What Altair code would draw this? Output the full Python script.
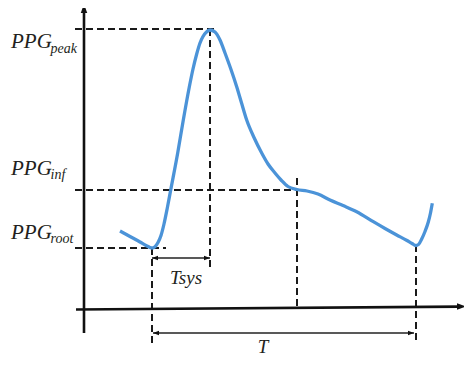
import altair as alt
import pandas as pd

# Waveform (time units, amplitude units; origin at the axes' corner)
curve_t = [36, 46, 56, 62, 66, 68, 71, 74, 77, 80, 83.3, 86.7, 93.7, 99.3, 105.3, 109, 112.7, 116,
           119, 122.5, 126, 131, 136, 141, 147, 152.7, 157.7, 162.7, 170, 177.7, 184, 191, 197.5,
           204, 213, 223, 234, 246, 259, 272.7, 289.3, 301, 312.7, 323, 328, 331.7, 334.5, 337.7,
           341, 344.3, 346.5, 348.3]
curve_a = [78, 72.5, 67, 63.5, 61.5, 61, 62.3, 66.5, 73.5, 85, 101, 119, 156, 189, 222, 240, 255, 266,
           272.5, 277, 279, 277, 269, 256, 239.5, 222.3, 205.5, 189, 171.5, 156, 145, 136, 128.5,
           122.5, 119.5, 118, 115, 109, 103.5, 97.3, 87.3, 80.5, 74, 68.5, 65.5, 63.5, 64.5, 70,
           77.5, 87, 96, 105.7]

# Key points of the pulse
t_root, a_root = 68, 61
t_peak, a_peak = 126, 280
t_inf, a_inf = 213, 119
t_end, a_end = 332, 64

# Dashed guide lines (start, end)
dash_t1 = [-9, t_peak, -9, t_inf, -9, t_root, t_end]
dash_a1 = [a_peak, a_peak, a_inf, 131, a_root, a_root, a_end]
dash_t2 = [132, t_peak, 216, t_inf, 82, t_root, t_end]
dash_a2 = [a_peak, 41, a_inf, 2, a_root, -37, -35]

# Axes
axis_t1 = [0, -8]
axis_a1 = [296, -0.5]
axis_t2 = [0, 375]
axis_a2 = [-24, 2.4]

# Interval arrows (Tsys, T)
int_t1 = [t_root, 69]
int_t2 = [t_peak, 330]
int_a = [51, -24]

# Arrow heads
head_t = [0, 377.5, 71, 123, 72, 327]
head_a = [300.5, 2.5, 51, 51, -24, -24]
head_angle = [0, 90, 270, 90, 270, 90]
head_size = [81, 81, 36, 36, 36, 36]

# Labels
main_text = ["PPG", "PPG", "PPG"]
main_t = [-73, -73, -73]
main_a = [261, 134, 70]
sub_text = ["peak", "inf", "root"]
sub_t = [-33.5, -33.5, -33.5]
sub_a = [256, 130, 66]
int_text = ["Tsys", "T"]
int_lt = [102, 179]
int_la = [25, -44]

INK = "#231f20"
BLUE = "#4b93d8"
FONT = "Liberation Serif, Times New Roman, serif"

xs = alt.Scale(domain=[-76, 380], nice=False, zero=False)
ys = alt.Scale(domain=[-48, 301], nice=False, zero=False)

def X(f):
    return alt.X(f, type="quantitative", scale=xs, axis=None)

def Y(f):
    return alt.Y(f, type="quantitative", scale=ys, axis=None)

curve_df = pd.DataFrame({"t": curve_t, "a": curve_a, "o": range(len(curve_t))})
dash_df = pd.DataFrame({"t": dash_t1, "a": dash_a1, "t2": dash_t2, "a2": dash_a2})
axis_df = pd.DataFrame({"t": axis_t1, "a": axis_a1, "t2": axis_t2, "a2": axis_a2})
int_df = pd.DataFrame({"t": int_t1, "t2": int_t2, "a": int_a})
head_df = pd.DataFrame({"t": head_t, "a": head_a, "ang": head_angle, "s": head_size})
main_df = pd.DataFrame({"t": main_t, "a": main_a, "txt": main_text})
sub_df = pd.DataFrame({"t": sub_t, "a": sub_a, "txt": sub_text})
lab_df = pd.DataFrame({"t": int_lt, "a": int_la, "txt": int_text})

dashes = alt.Chart(dash_df).mark_rule(color="#1a1a1a", strokeWidth=2, strokeDash=[7, 4]).encode(
    x=X("t"), y=Y("a"), x2="t2", y2="a2")
axes = alt.Chart(axis_df).mark_rule(color="#111", strokeWidth=2.6).encode(
    x=X("t"), y=Y("a"), x2="t2", y2="a2")
ints = alt.Chart(int_df).mark_rule(color="#222", strokeWidth=1.3).encode(
    x=X("t"), x2="t2", y=Y("a"))
heads = alt.Chart(head_df).mark_point(
    shape="M0,-1L0.72,1L-0.72,1Z", filled=True, color="#111", opacity=1).encode(
    x=X("t"), y=Y("a"), angle=alt.Angle("ang:Q", scale=None), size=alt.Size("s:Q", scale=None))
curve = alt.Chart(curve_df).mark_line(color=BLUE, strokeWidth=3.3, interpolate="monotone").encode(
    x=X("t"), y=Y("a"), order="o:Q")
main_lab = alt.Chart(main_df).mark_text(
    font=FONT, fontStyle="italic", fontSize=21, align="left", baseline="alphabetic", color=INK).encode(
    x=X("t"), y=Y("a"), text="txt:N")
sub_lab = alt.Chart(sub_df).mark_text(
    font=FONT, fontStyle="italic", fontSize=14, align="left", baseline="alphabetic", color=INK).encode(
    x=X("t"), y=Y("a"), text="txt:N")
int_lab = alt.Chart(lab_df).mark_text(
    font=FONT, fontStyle="italic", fontSize=19, align="center", baseline="alphabetic", color=INK).encode(
    x=X("t"), y=Y("a"), text="txt:N")

chart = alt.layer(dashes, axes, ints, heads, curve, main_lab, sub_lab, int_lab).properties(
    width=456, height=349, padding=0, autosize=alt.AutoSizeParams(type="none")
).configure_view(stroke=None)

chart.save("out.html", embed_options={"renderer": "svg", "actions": False})
